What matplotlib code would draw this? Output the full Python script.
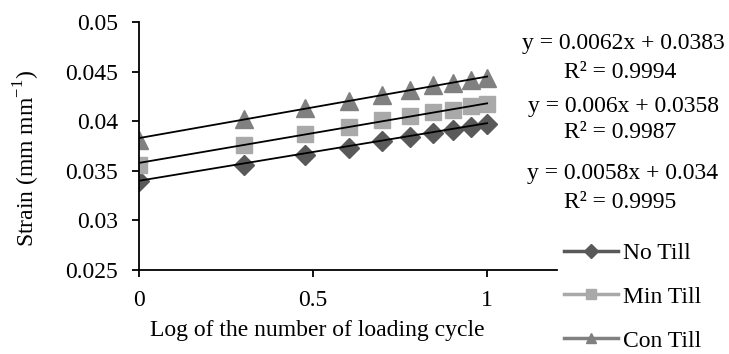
import numpy as np
import matplotlib
matplotlib.use("Agg")
import matplotlib.pyplot as plt
from matplotlib.lines import Line2D

plt.rcParams['font.family'] = ['Liberation Serif', 'DejaVu Serif']
plt.rcParams['mathtext.fontset'] = 'custom'
plt.rcParams['mathtext.rm'] = 'Liberation Serif'

log_cycles = [0, 0.301, 0.477, 0.602, 0.699, 0.778, 0.845, 0.903, 0.954, 1.0]
no_till = [0.0340, 0.0356, 0.0366, 0.0373, 0.0380, 0.0384, 0.0388, 0.0391, 0.0394, 0.0397]
min_till = [0.0356, 0.0376, 0.0387, 0.0394, 0.0401, 0.0405, 0.0409, 0.0411, 0.0415, 0.0417]
con_till = [0.0381, 0.0402, 0.0413, 0.0420, 0.0426, 0.0431, 0.0436, 0.0438, 0.0442, 0.0444]

series_names = ["No Till", "Min Till", "Con Till"]
slopes = [0.0058, 0.006, 0.0062]
intercepts = [0.034, 0.0358, 0.0383]
eq_lines = ["y = 0.0058x + 0.034", "y = 0.006x + 0.0358", "y = 0.0062x + 0.0383"]
r2_lines = ["R² = 0.9995", "R² = 0.9987", "R² = 0.9994"]

colors = ["#595959", "#A9A9A9", "#808080"]
markers = ["D", "s", "^"]
msizes = [10, 12, 13]

FS = 17
fig = plt.figure(figsize=(7.29, 3.54), dpi=100)
ax = fig.add_axes([0.1907, 0.237, 0.573, 0.701])

data = [no_till, min_till, con_till]
x = np.array(log_cycles)
for vals, c, m, ms in zip(data, colors, markers, msizes):
    ax.plot(x, vals, linestyle='none', marker=m, color=c, markersize=ms, zorder=2)

xt = np.array([0.0, 1.0])
for s, b in zip(slopes, intercepts):
    ax.plot(xt, s * xt + b, color='black', lw=1.3, zorder=3)

ax.set_xlim(0, 1.2)
ax.set_ylim(0.025, 0.05)
ax.set_xticks([0, 0.5, 1])
ax.set_xticklabels(["0", "0.5", "1"])
ax.set_yticks([0.025, 0.03, 0.035, 0.04, 0.045, 0.05])
ax.set_yticklabels(["0.025", "0.03", "0.035", "0.04", "0.045", "0.05"])
ax.spines['top'].set_visible(False)
ax.spines['right'].set_visible(False)
for sp in ['left', 'bottom']:
    ax.spines[sp].set_linewidth(1.3)
ax.tick_params(direction='out', length=5, width=1.3, labelsize=FS)
ax.tick_params(axis='y', pad=10)
ax.tick_params(axis='x', pad=9)
ax.set_xlabel("Log of the number of loading cycle", fontsize=FS)
ax.set_ylabel("Strain (mm mm$^{-1}$)", fontsize=FS)
ax.xaxis.label.set_va('center')
ax.xaxis.set_label_coords(0.426, -0.242)
ax.yaxis.label.set_va('center')
ax.yaxis.set_label_coords(-0.268, 0.45)

# equations
eq_y = [173, 107, 43]
r2_y = [202, 133, 72]
for e, r, ye, yr in zip(eq_lines, r2_lines, eq_y, r2_y):
    fig.text(623 / 729, 1 - ye / 354, e, ha='center', va='center', fontsize=FS)
    fig.text(620 / 729, 1 - yr / 354, r, ha='center', va='center', fontsize=FS)

handles = [Line2D([0], [0], color=c, lw=2.5, marker=m, markersize=7)
           for c, m in zip(colors, markers)]
fig.legend(handles, series_names, loc='center left', bbox_to_anchor=(564 / 729, 1 - 297 / 354),
           frameon=False, fontsize=FS, handlelength=2.3, handletextpad=0.2,
           labelspacing=0.95, borderpad=0, borderaxespad=0)

fig.savefig("out.png", dpi=100)
